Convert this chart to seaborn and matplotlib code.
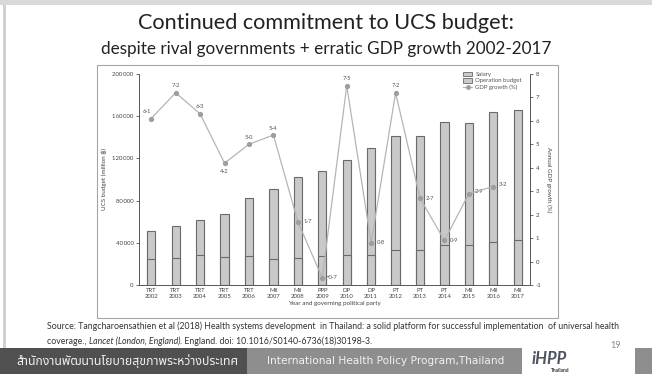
import numpy as np
import pandas as pd
import matplotlib
matplotlib.use("Agg")
import matplotlib.pyplot as plt
from matplotlib.patches import Rectangle, Patch
from matplotlib.lines import Line2D
from matplotlib.transforms import IdentityTransform
import seaborn as sns

sns.set_theme(style="white")
plt.rcParams["font.family"] = ["Lato", "DejaVu Sans"]

# ---- data ----
years = ["2002", "2003", "2004", "2005", "2006", "2007", "2008", "2009",
         "2010", "2011", "2012", "2013", "2014", "2015", "2016", "2017"]
parties = ["TRT", "TRT", "TRT", "TRT", "TRT", "Mil", "Mil", "PPP",
           "DP", "DP", "PT", "PT", "PT", "Mil", "Mil", "Mil"]
total_budget = [51500, 56000, 61300, 67600, 82200, 91300, 102100, 107800,
                118200, 129700, 141000, 141500, 154800, 153600, 163700, 165600]
salary = [24400, 25600, 28100, 26200, 27200, 24400, 25600, 27200,
          28700, 28100, 33200, 33200, 37900, 37900, 40800, 42700]
gdp_growth = [6.1, 7.2, 6.3, 4.2, 5.0, 5.4, 1.7, -0.7,
              7.5, 0.8, 7.2, 2.7, 0.9, 2.9, 3.2]
left_ticks = [0, 40000, 80000, 120000, 160000, 200000]
right_ticks = [-1, 0, 1, 2, 3, 4, 5, 6, 7, 8]

W, H = 652, 374
fig = plt.figure(figsize=(W / 100, H / 100), dpi=100)
fig.patch.set_facecolor("white")

def fx(px):
    return px / W

def fy(py):
    return 1 - py / H

# ---- slide frame ----
fig.patches.append(Rectangle((0, fy(5)), 1, 5 / H, transform=fig.transFigure,
                             facecolor="#d9d9d9", edgecolor="none", zorder=0))
fig.patches.append(Rectangle((fx(3), fy(348)), 3 / W, (348 - 5) / H,
                             transform=fig.transFigure,
                             facecolor="#d0d0d0", edgecolor="none", zorder=0))

# ---- titles ----
fig.text(0.5, fy(23), "Continued commitment to UCS budget:", ha="center",
         va="center", fontsize=15.6, color="#222222")
fig.text(0.5, fy(49), "despite rival governments + erratic GDP growth 2002-2017",
         ha="center", va="center", fontsize=12.3, color="#222222")

# ---- chart frame ----
fig.patches.append(Rectangle((fx(97), fy(318)), (558 - 97) / W, (318 - 65) / H,
                             transform=fig.transFigure, facecolor="white",
                             edgecolor="#a5a5a5", linewidth=0.8, zorder=1))

# ---- main axes ----
ax = fig.add_axes([fx(139), fy(285), (530 - 139) / W, (285 - 74) / H])
ax.set_zorder(3)
ax.patch.set_alpha(0)

df = pd.DataFrame({
    "pos": np.arange(len(years)),
    "label": [f"{p}\n{y}" for p, y in zip(parties, years)],
    "total": total_budget,
    "salary": salary,
})

bar_fill = "#c9c9c9"
bar_edge = "#6a6a6a"
sns.barplot(data=df, x="label", y="total", color=bar_fill, edgecolor=bar_edge,
            linewidth=0.8, width=0.34, saturation=1, ax=ax, zorder=2)
sns.barplot(data=df, x="label", y="salary", color=bar_fill, edgecolor=bar_edge,
            linewidth=0.8, width=0.34, saturation=1, ax=ax, zorder=3)

ax.set_xlim(-0.5, 15.5)
ax.set_ylim(0, 200000)
ax.set_yticks(left_ticks)
ax.set_yticklabels([f"{v:,}".replace(",", "\u2009") for v in left_ticks])
ax.set_xticks(np.arange(len(years)))
ax.set_xticklabels(df["label"])
ax.set_xticks(np.arange(-0.5, 15.6, 1), minor=True)
ax.tick_params(axis="x", which="major", length=0, labelsize=4.3,
               colors="#444444", pad=2)
ax.tick_params(axis="x", which="minor", length=2.5, width=0.6, color="#555555",
               direction="out")
ax.tick_params(axis="y", length=2.5, width=0.6, color="#555555", labelsize=4.3,
               labelcolor="#444444", pad=1.5, left=True)
ax.set_xlabel("Year and governing political party", fontsize=4.5,
              color="#444444", labelpad=2)
ax.set_ylabel("UCS budget (million \u0e3f)", fontsize=4.5, color="#444444",
              labelpad=4)
for side in ["top", "right"]:
    ax.spines[side].set_visible(False)
for side in ["left", "bottom"]:
    ax.spines[side].set_color("#555555")
    ax.spines[side].set_linewidth(0.7)

# ---- GDP growth on right axis ----
ax2 = ax.twinx()
ax2.set_zorder(4)
gdf = pd.DataFrame({"pos": np.arange(len(gdp_growth)), "gdp": gdp_growth})
sns.lineplot(data=gdf, x="pos", y="gdp", color="#b5b5b5", linewidth=0.9,
             marker="o", markersize=3, markerfacecolor="#9e9e9e",
             markeredgecolor="#9e9e9e", ax=ax2, zorder=5)
ax2.set_ylim(-1, 8)
ax2.set_yticks(right_ticks)
ax2.set_yticklabels([str(v) for v in right_ticks])
ax2.tick_params(axis="y", length=2.5, width=0.6, color="#555555", labelsize=4.3,
                labelcolor="#444444", pad=1.5, right=True)
ax2.set_ylabel("Annual GDP growth (%)", fontsize=4.5, color="#444444",
               rotation=270, labelpad=7)
ax2.set_xlabel("")
for side in ["top", "left", "bottom"]:
    ax2.spines[side].set_visible(False)
ax2.spines["right"].set_color("#555555")
ax2.spines["right"].set_linewidth(0.7)

# value label placement (offset in points)
offsets = {0: (-3, 5), 1: (0, 5), 2: (0, 5), 3: (0, -6), 4: (0, 5), 5: (0, 5),
           6: (7, 0), 7: (7, 0), 8: (0, 5), 9: (7, 0), 10: (0, 5), 11: (7, 0),
           12: (7, 0), 13: (7, 1.5), 14: (7, 1.5)}
for i, v in enumerate(gdp_growth):
    dx, dy = offsets[i]
    txt = f"{v:.1f}".replace(".", "\u00b7").replace("-", "\u2212")
    ax2.annotate(txt, (i, v), xytext=(dx, dy), textcoords="offset points",
                 ha="center", va="center", fontsize=4.3, color="#555555")

handles = [
    Patch(facecolor=bar_fill, edgecolor=bar_edge, linewidth=0.6, label="Salary"),
    Patch(facecolor=bar_fill, edgecolor=bar_edge, linewidth=0.6,
          label="Operation budget"),
    Line2D([0], [0], color="#b5b5b5", linewidth=0.9, marker="o", markersize=2.5,
           markerfacecolor="#9e9e9e", markeredgecolor="#9e9e9e",
           label="GDP growth (%)"),
]
ax2.legend(handles=handles, loc="upper right", bbox_to_anchor=(0.99, 1.03),
           fontsize=4.3, frameon=False, handlelength=1.6, handleheight=0.8,
           labelspacing=0.15, handletextpad=0.5, borderpad=0.2,
           labelcolor="#555555")

# ---- source ----
src_size = 6.3
src1 = ("Source: Tangcharoensathien et al (2018) Health systems development  in "
        "Thailand: a solid platform for successful implementation  of universal health")
fig.text(fx(47), fy(326), src1, ha="left", va="center", fontsize=src_size,
         color="#333333")
t1 = fig.text(fx(47), fy(344), "coverage., ", ha="left", va="baseline",
              fontsize=src_size, color="#333333")
t2 = fig.text(0, 0, "Lancet (London, England)", fontsize=src_size,
              color="#333333", style="italic", ha="left", va="baseline")
t3 = fig.text(0, 0, ". England. doi: 10.1016/S0140-6736(18)30198-3.",
              fontsize=src_size, color="#333333", ha="left", va="baseline")
# chain the pieces along one baseline
fig.canvas.draw()
r = fig.canvas.get_renderer()
base_y = t1.get_transform().transform(t1.get_position())[1]
bb1 = t1.get_window_extent(r)
t2.set_transform(IdentityTransform())
t2.set_position((bb1.x1, base_y))
fig.canvas.draw()
bb2 = t2.get_window_extent(r)
t3.set_transform(IdentityTransform())
t3.set_position((bb2.x1, base_y))

# ---- footer ----
fig.patches.append(Rectangle((0, 0), fx(247), fy(348), transform=fig.transFigure,
                             facecolor="#505050", edgecolor="none"))
fig.patches.append(Rectangle((fx(247), 0), fx(522 - 247), fy(348),
                             transform=fig.transFigure, facecolor="#8e8e8e",
                             edgecolor="none"))
fig.patches.append(Rectangle((fx(635), 0), fx(652 - 635), fy(348),
                             transform=fig.transFigure, facecolor="#8e8e8e",
                             edgecolor="none"))
fig.text(fx(127), fy(361), "สำนักงานพัฒนานโยบายสุขภาพระหว่างประเทศ", ha="center",
         va="center", fontsize=8.8, color="#f0f0f0",
         family=["Noto Sans Thai", "Noto Sans", "DejaVu Sans"])
fig.text(fx(386), fy(361), "International Health Policy Program,Thailand",
         ha="center", va="center", fontsize=7.6, color="#f2f2f2",
         family=["DejaVu Sans"])
fig.text(fx(549), fy(359), "iHPP", ha="center", va="center", fontsize=12,
         color="#4f5560", weight="bold", style="italic")
fig.text(fx(560), fy(371), "Thailand", ha="center", va="center", fontsize=3.5,
         color="#333333", weight="bold")
fig.text(fx(616), fy(346), "19", ha="center", va="center", fontsize=6.5,
         color="#8a8a8a")

fig.savefig("out.png", dpi=100)
